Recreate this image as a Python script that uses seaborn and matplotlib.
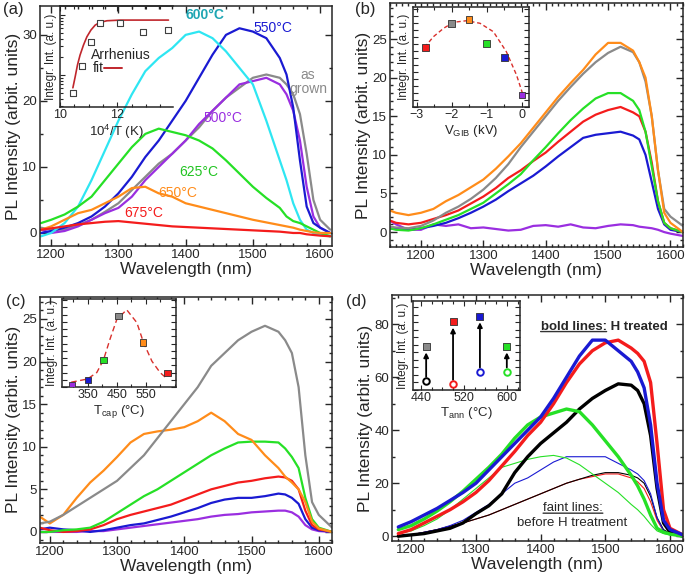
import seaborn as sns
import matplotlib.pyplot as plt
from matplotlib.ticker import MultipleLocator, NullFormatter

# ---------------- data ----------------
# (a) anneal temperature series
wl_a = [1185, 1200, 1220, 1240, 1260, 1280, 1300, 1320, 1340, 1360, 1380, 1400, 1420,
        1440, 1460, 1480, 1500, 1520, 1540, 1550, 1560, 1570, 1580, 1590, 1600, 1615]
a_grown = [0.8, 0.5, 0.5, 1.2, 2, 3.2, 4.5, 6.5, 8.5, 10.5, 12, 14, 16,
           18.5, 20.5, 22, 23.5, 24, 23.5, 22.5, 21, 18, 12, 5, 2, 0.5]
a_500 = [0.5, 0, 0.3, 1, 2, 3, 3.8, 5.5, 8, 10, 12, 14, 16.5,
         18.5, 20.5, 22.5, 23, 23.5, 22.5, 21, 18.5, 14, 7, 2.5, 0.8, 0]
a_550 = [0, 0.3, 0.8, 1.5, 2.5, 4, 6, 8.5, 11.5, 14, 17, 20, 23.5,
         27, 30, 31, 30.5, 29.5, 26.5, 24, 19, 11, 4, 1.5, 0.8, 0]
a_600 = [-0.5, 0, 1.5, 4, 8, 12.5, 17, 21, 24.5, 26.5, 28, 30, 30.5,
         29.5, 27.5, 25, 22.5, 17, 11, 8, 4.5, 2, 0.5, 0, -0.3, -0.5]
a_625 = [1.5, 2, 2.8, 4, 5.5, 8, 10.5, 13, 15, 15.8, 15.3, 14.8, 14,
         12.8, 11, 9, 7, 5.3, 3.8, 2.5, 1.8, 1.5, 1, 0.5, 0, -0.5]
a_650 = [0.5, 1, 2, 3, 3.5, 4.5, 5.5, 6.8, 7, 6, 5.5, 4.5, 4,
         3.5, 3, 2.5, 2, 1.6, 1.2, 1, 0.8, 0.5, 0.3, 0.1, 0, 0]
a_675 = [0.5, 0.7, 1, 1.3, 1.5, 1.7, 1.8, 1.6, 1.4, 1.2, 1, 0.9, 0.8,
         0.7, 0.6, 0.5, 0.4, 0.3, 0.2, 0.1, 0, 0, -0.2, -0.3, -0.4, -0.5]
inv_T = [10.47, 10.78, 11.09, 11.41, 12.11, 12.90, 13.78]
int_a = [4.96, 14.1, 35.9, 74.5, 74.5, 52.6, 55.6]
fit_a_x = [10.45, 10.53, 10.61, 10.70, 10.82, 10.94, 11.08, 11.23, 11.40, 11.64, 12.11, 13.79]
fit_a_y = [6.14, 9.37, 14.7, 21.5, 31.6, 43.5, 56.2, 68.1, 75.5, 80.4, 82.5, 82.5]

# (b) GIB voltage series
wl_b = [1150, 1160, 1180, 1200, 1220, 1240, 1260, 1280, 1300, 1320, 1340, 1360, 1380, 1400,
        1420, 1440, 1460, 1480, 1500, 1520, 1540, 1550, 1560, 1570, 1580, 1590, 1600, 1620]
b_orange = [2.8, 2.5, 2.2, 2.5, 3, 4, 4.8, 5.8, 6.8, 8.2, 9.8, 11.5, 13.5, 15.5,
            17.5, 19.3, 21, 23, 24.5, 24.5, 23.5, 22, 20, 15, 8, 2.5, 1.2, 0]
b_gray = [0.7, 0.6, 0.5, 0.8, 1.5, 2.5, 3.3, 4.3, 5.5, 7, 8.8, 11, 13, 15,
          17, 18.8, 20.5, 22, 23.2, 24, 23.3, 22, 19.5, 15, 8, 3, 2, 0.8]
b_green = [0.5, 0.3, 0.2, 0.5, 1, 1.6, 2.2, 3, 3.8, 5, 6.2, 7.5, 9.3, 11,
           12.8, 14.5, 16, 17.3, 18, 18, 17, 15.8, 13, 8.5, 4, 1.2, 0.5, 0]
b_red = [1.5, 1.2, 1, 1.2, 1.7, 2.2, 2.8, 3.7, 4.6, 5.7, 7, 8, 9.2, 10.3,
         11.7, 13, 14.3, 15.2, 15.8, 16.2, 15.5, 15, 13, 9, 4, 1.2, 0.5, 0]
b_blue = [0.5, 0.4, 0.3, 0.5, 0.8, 1.2, 1.8, 2.5, 3.3, 4.2, 5.3, 6.3, 7.3, 8.5,
          9.8, 11, 12.2, 12.6, 12.8, 13, 12.5, 12, 10, 6.5, 3, 1, 0.3, 0]
b_purple = [1.5, 1, 0.3, 0.3, 1, 0.8, 1, 0.5, 0.6, 0.4, 0.2, 0.3, 0.8, 0.9,
            0.7, 1, 0.6, 0.5, 0.8, 1, 0.9, 0.7, 0.6, 0.5, 0.3, 0, -0.2, -0.5]
v_gib = [-2.75, -2.0, -1.5, -1.0, -0.5, 0.0]
int_b = [59.7, 83.7, 87.7, 63.7, 49.3, 12.0]
fit_b_x = [-2.77, -2.52, -2.23, -1.95, -1.57, -1.19, -0.81, -0.44, -0.15, 0.02]
fit_b_y = [59.7, 70.3, 78.7, 84.7, 86.3, 83.7, 75.3, 55.3, 32.0, 13.7]

# (c) capping temperature series
wl_c = [1185, 1200, 1220, 1240, 1260, 1280, 1300, 1320, 1340, 1360, 1380, 1400, 1420,
        1440, 1460, 1480, 1500, 1520, 1540, 1550, 1560, 1570, 1580, 1590, 1600, 1620]
c_gray = [1, 1.2, 2, 3, 4, 5, 6, 7.5, 9, 11, 13, 15, 17,
          19.5, 21, 22.5, 23.5, 24.2, 23.5, 22.5, 21, 17, 9, 3.5, 2, 0.5]
c_orange = [1.8, 1, 2, 4, 5.8, 7.2, 8.8, 10.5, 11.5, 11.8, 12, 12.3, 13,
            14, 13, 11.5, 10.8, 9, 7.5, 6.5, 5.8, 5, 3.5, 1.2, 0.4, 0]
c_green = [0, 0, 0.2, 0.3, 0.5, 1.2, 2.2, 3.2, 4.2, 5, 6, 7, 8,
           9, 9.8, 10.5, 10.6, 10.6, 10.5, 9.8, 8.8, 7.5, 4, 1.5, 0.5, 0]
c_red = [0.5, 0.2, 0, 0.1, 0.3, 0.8, 1.5, 2, 2.4, 2.8, 3.2, 3.8, 4.4,
         5, 5.4, 5.8, 6, 6.3, 6.5, 6.4, 6, 5, 2.5, 0.8, 0.3, 0]
c_blue = [0.3, 0.5, 0.3, 0.2, 0, 0.2, 0.5, 0.8, 1, 1.4, 1.8, 2.3, 2.8,
          3.4, 3.8, 4, 4, 4.2, 4.5, 4.4, 4, 3.3, 1.5, 0.5, 0.2, 0]
c_purple = [0, 0, 0, 0, 0.1, 0.1, 0.3, 0.5, 0.7, 0.9, 1.1, 1.3, 1.5,
            1.8, 2, 2.1, 2.3, 2.4, 2.5, 2.5, 2.3, 1.8, 0.8, 0.3, 0.1, 0]
t_cap = [295, 350, 405, 455, 540, 625]
int_c = [2.3, 7.3, 28.0, 73.3, 46.0, 14.3]
fit_c_x = [293, 349, 381, 404, 427, 450, 484, 519, 542, 571, 599, 624]
fit_c_y = [5, 8.3, 15, 28, 50, 70, 80, 66.7, 46, 26.7, 15, 8.3]

# (d) H treatment series
wl_d = [1180, 1200, 1220, 1240, 1260, 1280, 1300, 1320, 1340, 1360, 1380, 1400, 1420,
        1440, 1460, 1480, 1500, 1520, 1540, 1550, 1560, 1570, 1580, 1590, 1600, 1620]
d_blue_h = [3.5, 5.5, 8, 10.5, 13.5, 16.5, 20, 25, 30, 35, 40, 45, 52,
            60, 68, 74, 74, 70, 66, 62, 56, 42, 20, 6, 2.5, 0.5]
d_red_h = [1, 2.5, 5, 7.5, 10, 13, 16.5, 21, 26.5, 32, 38, 43, 50,
           58, 65, 70, 73, 74, 71, 69, 66, 58, 35, 10, 3, 0.5]
d_black_h = [0, 0.5, 1, 2, 3, 5, 8.5, 11.5, 16, 24, 30, 35, 39,
             43, 48, 52, 55, 57.5, 57, 55, 50, 38, 18, 5, 1.5, 0]
d_green_h = [2.5, 4, 6.5, 9.5, 13, 17, 21.5, 26, 31, 37, 42, 45, 46.5,
             48, 47, 42, 36, 30, 23, 19, 14, 8, 3, 1.5, 0.8, 0]
d_green_0 = [1, 2, 4, 6.5, 10, 14, 18, 22, 26, 27.5, 29, 30, 30.5,
             29.5, 27, 23.5, 20, 16.5, 12, 10, 7.5, 4.5, 2, 1, 0.5, 0]
d_blue_0 = [0, 0.5, 1.5, 2.5, 4, 6, 9, 12, 16, 20, 22, 25, 28,
            30, 30, 30, 30, 27.5, 25, 23.5, 21, 16, 7, 2, 0.8, 0]
d_red_0 = [0, 0.5, 1.5, 2.5, 3.8, 5, 6.5, 8, 10, 12, 14, 16, 18,
           20, 21.5, 22.5, 23.5, 23.5, 22, 20.5, 18, 13, 6, 2, 0.8, 0]
d_black_0 = [0, 0.5, 1.5, 2.5, 3.8, 5, 6.5, 8, 10, 12, 14, 16, 18,
             20, 21.5, 23, 24, 24, 23, 22, 20, 15, 7, 2.5, 1, 0]
t_ann = [450, 500, 550, 600]
int_d_h = [43.3, 68.0, 73.3, 43.3]
int_d_0 = [9.0, 6.0, 18.3, 18.3]

GRAY, PURPLE, BLUE, CYAN = '#8a8a8a', '#9a2ee0', '#1a1ad2', '#2ee6f2'
GREEN, ORANGE, RED, BLACK = '#26e026', '#ff8c1a', '#f41c1c', '#000000'

# ---------------- style ----------------
sns.set_style('ticks')
plt.rcParams['font.family'] = ['Liberation Sans', 'DejaVu Sans']
plt.rcParams['mathtext.default'] = 'regular'
plt.rcParams['axes.linewidth'] = 1.1

fig = plt.figure(figsize=(6.85, 5.82), dpi=100)


def main_axes(rect, xlim, ylim, ymaj, ymin, xmin=20):
    ax = fig.add_axes(rect)
    ax.set_xlim(*xlim)
    ax.set_ylim(*ylim)
    ax.xaxis.set_major_locator(MultipleLocator(100))
    ax.xaxis.set_minor_locator(MultipleLocator(xmin))
    ax.yaxis.set_major_locator(MultipleLocator(ymaj))
    ax.yaxis.set_minor_locator(MultipleLocator(ymin))
    ax.tick_params(which='both', direction='in', top=True, right=True,
                   labelsize=9.5, width=1, pad=2)
    ax.tick_params(which='major', length=5)
    ax.tick_params(which='minor', length=2.5)
    ax.set_xlabel('Wavelength (nm)', fontsize=12.5, labelpad=1)
    ax.set_ylabel('PL Intensity (arbit. units)', fontsize=12.5, labelpad=1)
    return ax


def inset_axes(rect, xlim, ylim, xmaj, xmin, xlabel, face='white'):
    ins = fig.add_axes(rect, facecolor=face)
    ins.set_xlim(*xlim)
    ins.set_ylim(*ylim)
    ins.xaxis.set_major_locator(MultipleLocator(xmaj))
    ins.xaxis.set_minor_locator(MultipleLocator(xmin))
    ins.yaxis.set_major_formatter(NullFormatter())
    ins.tick_params(which='both', direction='in', top=True, right=True,
                    labelsize=9, width=0.8, pad=1.5)
    ins.tick_params(which='major', length=3.5)
    ins.tick_params(which='minor', length=2)
    ins.set_xlabel(xlabel, fontsize=9.5, labelpad=1)
    ins.set_ylabel('Integr. Int. (a. u.)', fontsize=8.5, labelpad=1)
    for s in ins.spines.values():
        s.set_linewidth(1.1)
    return ins


def curve(ax, x, y, color, lw=1.6):
    sns.lineplot(x=x, y=y, ax=ax, color=color, lw=lw, legend=False)


# ---------------- (a) ----------------
ax = main_axes([0.058, 0.577, 0.427, 0.413], (1183, 1618), (-2, 34.4), 10, 5)
for y, c in [(a_grown, GRAY), (a_500, PURPLE), (a_550, BLUE), (a_600, CYAN),
             (a_625, GREEN), (a_650, ORANGE), (a_675, RED)]:
    curve(ax, wl_a, y, c)
lab = dict(fontsize=10, ha='center', va='center')
ax.text(1429, 33.0, '600°C', color='#1fa6b3', fontweight='bold', **lab)
ax.text(1529, 31.0, '550°C', color=BLUE, **lab)
ax.text(1582, 22.9, 'as\ngrown', color=GRAY, linespacing=1.0, **lab)
ax.text(1455, 17.4, '500°C', color=PURPLE, **lab)
ax.text(1420, 9.2, '625°C', color='#22c422', **lab)
ax.text(1388, 6.0, '650°C', color=ORANGE, **lab)
ax.text(1337, 3.0, '675°C', color=RED, **lab)

ins = inset_axes([0.0876, 0.816, 0.165, 0.1735], (10, 13.95), (2.93, 141), 2, 0.5,
                 r'10$^4$/T (K)', face='none')
ins.set_yscale('log')
ins.set_ylim(2.93, 141)
ins.yaxis.set_major_formatter(NullFormatter())
ins.yaxis.set_minor_formatter(NullFormatter())
ins.spines['right'].set_visible(False)
ins.tick_params(which='both', right=False)
sns.lineplot(x=fit_a_x, y=fit_a_y, ax=ins, color='#c0262c', lw=1.2, legend=False)
sns.scatterplot(x=inv_T, y=int_a, ax=ins, marker='s', s=16, color='white',
                edgecolor='#404040', linewidth=0.8, legend=False, zorder=3)
ins.text(0.27, 0.52, 'Arrhenius', transform=ins.transAxes, fontsize=10, va='center')
ins.text(0.29, 0.39, 'fit', transform=ins.transAxes, fontsize=10, va='center')
ins.plot([0.39, 0.55], [0.39, 0.39], transform=ins.transAxes, color='#c0262c', lw=1.4)

# ---------------- (b) ----------------
ax = main_axes([0.569, 0.576, 0.428, 0.418], (1150, 1620), (-1.9, 29.6), 5, 1, xmin=10)
for y, c in [(b_purple, PURPLE), (b_blue, BLUE), (b_red, RED), (b_green, GREEN),
             (b_gray, GRAY), (b_orange, ORANGE)]:
    curve(ax, wl_b, y, c)
ins = inset_axes([0.603, 0.816, 0.169, 0.172], (-3.1, 0.2), (0, 100), 1, 0.5,
                 r'V$_{GIB}$ (kV)')
ins.yaxis.set_major_locator(MultipleLocator(7))
sns.lineplot(x=fit_b_x, y=fit_b_y, ax=ins, color='#d9302c', lw=1.0, ls=(0, (3, 2)), legend=False)
sns.scatterplot(x=v_gib, y=int_b, ax=ins, hue=v_gib, marker='s', s=22,
                palette=[RED, GRAY, ORANGE, GREEN, BLUE, PURPLE],
                edgecolor='#303030', linewidth=0.6, legend=False, zorder=3)

# ---------------- (c) ----------------
ax = main_axes([0.058, 0.067, 0.427, 0.423], (1185, 1620), (-1.3, 27.6), 5, 1)
for y, c in [(c_purple, PURPLE), (c_blue, BLUE), (c_red, RED), (c_green, GREEN),
             (c_orange, ORANGE), (c_gray, GRAY)]:
    curve(ax, wl_c, y, c)
ins = inset_axes([0.090, 0.335, 0.167, 0.151], (260, 654), (0, 91), 100, 50,
                 r'T$_{cap}$ (°C)')
ins.set_xticks([350, 450, 550])
ins.yaxis.set_major_locator(MultipleLocator(7.5))
sns.lineplot(x=fit_c_x, y=fit_c_y, ax=ins, color='#d9302c', lw=1.0, ls=(0, (4, 2.5)), legend=False)
sns.scatterplot(x=t_cap, y=int_c, ax=ins, hue=t_cap, marker='s', s=22,
                palette=[PURPLE, BLUE, GREEN, GRAY, ORANGE, RED],
                edgecolor='#303030', linewidth=0.6, legend=False, zorder=3)

# ---------------- (d) ----------------
ax = main_axes([0.572, 0.070, 0.425, 0.423], (1170, 1620), (-1.9, 91), 20, 10)
for y, c in [(d_red_0, RED), (d_black_0, BLACK), (d_blue_0, BLUE), (d_green_0, GREEN)]:
    curve(ax, wl_d, y, c, lw=0.8)
for y, c in [(d_black_h, BLACK), (d_green_h, GREEN), (d_red_h, RED), (d_blue_h, BLUE)]:
    curve(ax, wl_d, y, c, lw=2.4)

t1 = ax.text(1400, 78, 'bold lines:', fontsize=9.5, fontweight='bold', va='baseline')
ax.annotate(' H treated', xy=(1, 0), xycoords=t1, va='bottom', ha='left',
            fontsize=9.5, fontweight='bold')
ax.annotate('', xy=(0, 0.08), xycoords=t1, xytext=(1, 0.08), textcoords=t1,
            arrowprops=dict(arrowstyle='-', lw=1, color='#333333', shrinkA=0, shrinkB=0))
t2 = ax.text(1450, 10.6, 'faint lines:', fontsize=9.5, ha='center', va='center')
ax.annotate('', xy=(0, 0.08), xycoords=t2, xytext=(1, 0.08), textcoords=t2,
            arrowprops=dict(arrowstyle='-', lw=1, color='#333333', shrinkA=0, shrinkB=0))
ax.text(1448, 4.9, 'before H treatment', fontsize=9.5, ha='center', va='center')

ins = inset_axes([0.6025, 0.330, 0.157, 0.152], (425, 625), (0, 88), 80, 20,
                 r'T$_{ann}$ (°C)')
ins.set_xticks([440, 520, 600])
ins.yaxis.set_major_locator(MultipleLocator(7.5))
pal_d = [GRAY, RED, BLUE, GREEN]
pal_o = [BLACK, RED, BLUE, GREEN]
for T, hi, lo in zip(t_ann, int_d_h, int_d_0):
    ins.annotate('', xy=(T, hi - 6), xytext=(T, lo + 4),
                 arrowprops=dict(arrowstyle='-|>', color='black', lw=1.3,
                                 mutation_scale=7, shrinkA=0, shrinkB=0))
sns.scatterplot(x=t_ann, y=int_d_h, ax=ins, hue=t_ann, marker='s', s=26, palette=pal_d,
                edgecolor='#303030', linewidth=0.6, legend=False, zorder=3)
for T, lo, c in zip(t_ann, int_d_0, pal_o):
    ins.scatter([T], [lo], s=22, facecolor='white', edgecolor=c, linewidth=1.4, zorder=3)

# panel letters
for x, y, s in [(3, 2, '(a)'), (355, 2, '(b)'), (6, 294, '(c)'), (346, 294, '(d)')]:
    fig.text(x / 685, 1 - y / 582, s, fontsize=12, ha='left', va='top')

fig.savefig('out.png', dpi=100)
